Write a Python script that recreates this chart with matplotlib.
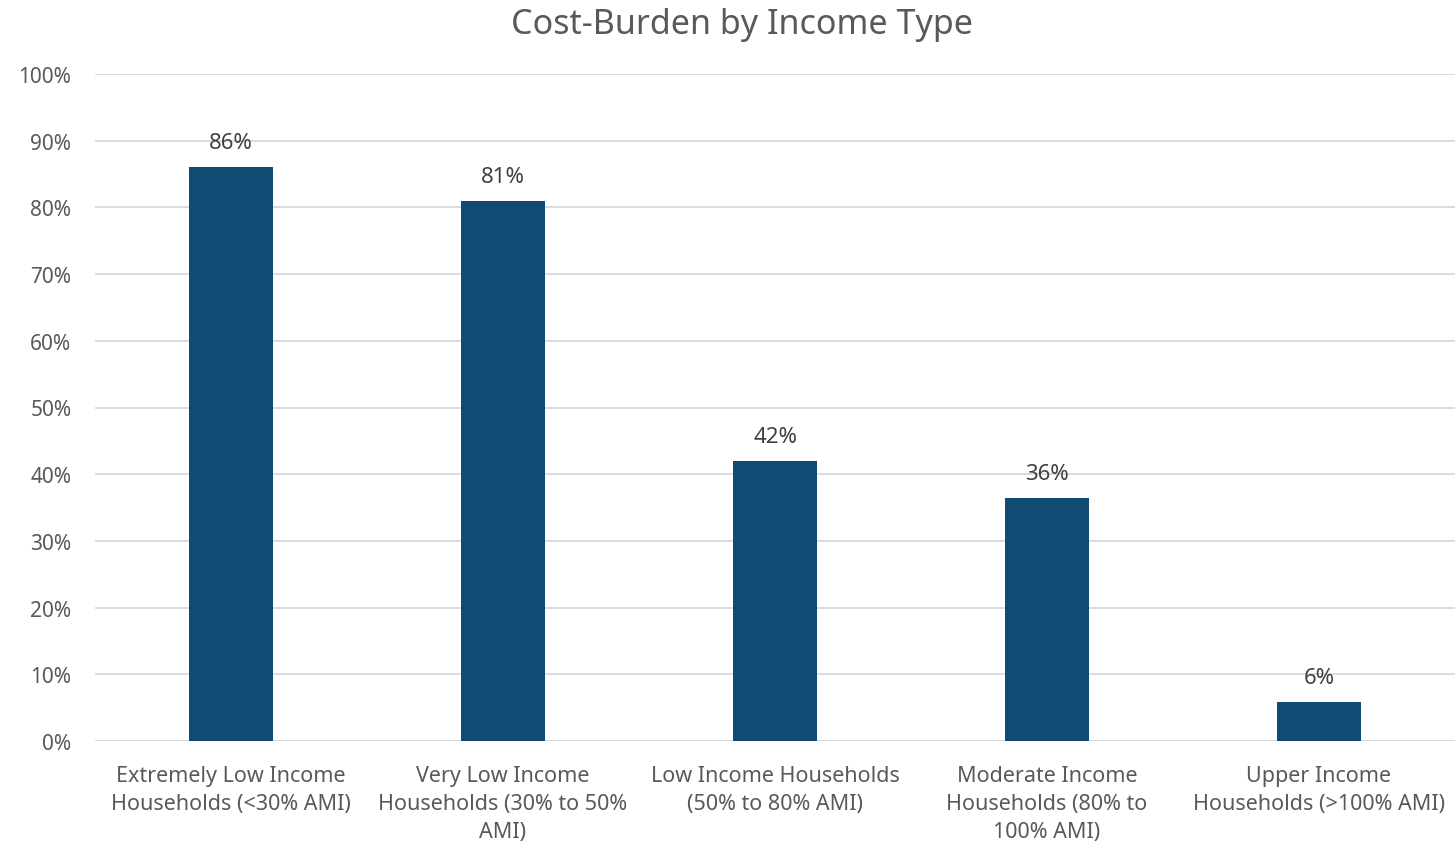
import matplotlib.pyplot as plt
from matplotlib.ticker import PercentFormatter

categories = [
    "Extremely Low Income\nHouseholds (<30% AMI)",
    "Very Low Income\nHouseholds (30% to 50%\nAMI)",
    "Low Income Households\n(50% to 80% AMI)",
    "Moderate Income\nHouseholds (80% to\n100% AMI)",
    "Upper Income\nHouseholds (>100% AMI)",
]
values = [0.86, 0.81, 0.42, 0.365, 0.058]

plt.rcParams['font.family'] = ['Noto Sans', 'DejaVu Sans']
text_col = "#595959"

fig = plt.figure(figsize=(14.55, 8.45), dpi=100)
ax = fig.add_axes([95/1455, 1 - 742/845, 1360/1455, 667/845])

x = range(len(categories))
bars = ax.bar(x, values, width=0.31, color="#114A73", zorder=3)

for b, v in zip(bars, values):
    ax.annotate(f"{v:.0%}", (b.get_x() + b.get_width()/2, v),
                xytext=(0, 10), textcoords="offset points",
                ha="center", va="bottom", fontsize=16, color="#404040")

ax.set_xlim(-0.5, len(categories) - 0.5)
ax.set_ylim(0, 1)
ax.set_yticks([i/10 for i in range(11)])
ax.yaxis.set_major_formatter(PercentFormatter(1.0, decimals=0))
ax.set_xticks(list(x))
ax.set_xticklabels(categories, fontsize=15.5, color=text_col, linespacing=1.45)
ax.tick_params(axis='y', labelsize=15, labelcolor=text_col, length=0, pad=17)
ax.tick_params(axis='x', length=0, pad=17)

ax.grid(axis='y', color="#D9D9D9", linewidth=1.3, zorder=0)
for s in ax.spines.values():
    s.set_visible(False)

fig.suptitle("Cost-Burden by Income Type", fontsize=24.5, color=text_col,
             x=0.51, y=0.99)

fig.savefig("out.png", dpi=100)
